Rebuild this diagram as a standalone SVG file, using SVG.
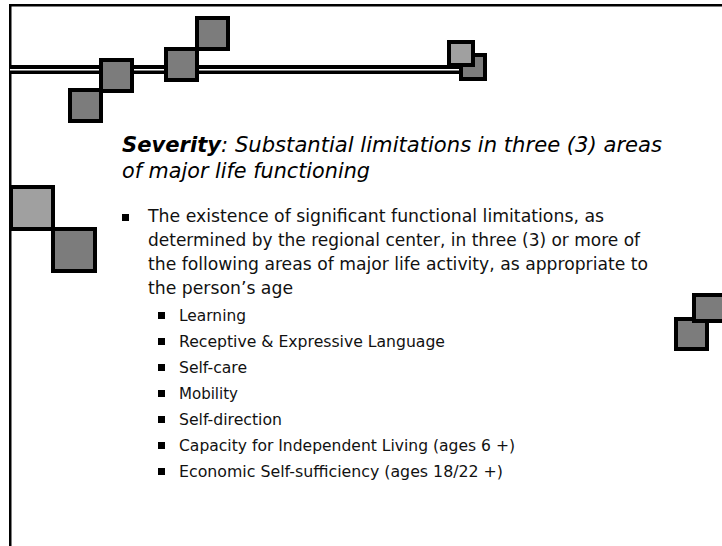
<svg xmlns="http://www.w3.org/2000/svg" width="722" height="546" viewBox="0 0 722 546">
  <style>
    .sq { stroke: #000; stroke-width: 4; }
    .dark { fill: #7c7c7c; }
    .light { fill: #a0a0a0; }
    .title { font-family: "DejaVu Sans", "Liberation Sans", sans-serif; font-size: 21px; font-style: italic; fill: #000; }
    .body { font-family: "DejaVu Sans", "Liberation Sans", sans-serif; font-size: 17px; fill: #111; }
    .sub { font-family: "DejaVu Sans", "Liberation Sans", sans-serif; font-size: 16px; fill: #111; }
    .bullet { fill: #000; }
  </style>
  <rect width="722" height="546" fill="#fff"/>

  <!-- frame: top rule and left rule -->
  <g id="frame">
    <rect x="9" y="4" width="713" height="2.5" fill="#000"/>
    <rect x="9" y="4" width="2.5" height="542" fill="#000"/>
  </g>

  <!-- double rule across the header -->
  <g id="header-rule">
    <rect x="10" y="65" width="455" height="9" fill="#000"/>
    <rect x="10" y="69" width="455" height="1.5" fill="#fff"/>
  </g>

  <!-- stepped squares along the header rule -->
  <g id="header-squares">
    <rect class="sq dark" x="70" y="90" width="31" height="31"/>
    <rect class="sq dark" x="101" y="60" width="31" height="31"/>
    <rect class="sq dark" x="166" y="49" width="31" height="31"/>
    <rect class="sq dark" x="197" y="18" width="31" height="31"/>
  </g>

  <g id="rule-end-squares">
    <rect class="sq dark" x="461" y="55" width="24" height="24"/>
    <rect class="sq light" x="449" y="42" width="24" height="23"/>
  </g>

  <g id="left-squares">
    <rect class="sq dark" x="53" y="229" width="42" height="42"/>
    <rect class="sq light" x="11" y="187" width="42" height="42"/>
  </g>

  <g id="right-squares">
    <rect class="sq dark" x="676" y="319" width="31" height="30"/>
    <rect class="sq dark" x="694" y="295" width="31" height="26"/>
  </g>

  <!-- heading -->
  <g id="title">
    <text class="title" x="122" y="152" textLength="540" lengthAdjust="spacingAndGlyphs"><tspan font-weight="bold">Severity</tspan>: Substantial limitations in three (3) areas</text>
    <text class="title" x="122" y="178" textLength="248" lengthAdjust="spacingAndGlyphs">of major life functioning</text>
  </g>

  <!-- main bullet -->
  <g id="main-bullet">
    <rect class="bullet" x="122" y="214" width="7" height="7"/>
    <text class="body" x="148" y="222" textLength="456" lengthAdjust="spacingAndGlyphs">The existence of significant functional limitations, as</text>
    <text class="body" x="148" y="246" textLength="492" lengthAdjust="spacingAndGlyphs">determined by the regional center, in three (3) or more of</text>
    <text class="body" x="148" y="270" textLength="500" lengthAdjust="spacingAndGlyphs">the following areas of major life activity, as appropriate to</text>
    <text class="body" x="148" y="294" textLength="145" lengthAdjust="spacingAndGlyphs">the person’s age</text>
  </g>

  <!-- sub bullets -->
  <g id="sub-bullets">
    <rect class="bullet" x="158" y="312" width="7" height="7"/>
    <text class="sub" x="179" y="321" textLength="67" lengthAdjust="spacingAndGlyphs">Learning</text>
    <rect class="bullet" x="158" y="338" width="7" height="7"/>
    <text class="sub" x="179" y="347" textLength="266" lengthAdjust="spacingAndGlyphs">Receptive &amp; Expressive Language</text>
    <rect class="bullet" x="158" y="364" width="7" height="7"/>
    <text class="sub" x="179" y="373" textLength="68" lengthAdjust="spacingAndGlyphs">Self-care</text>
    <rect class="bullet" x="158" y="390" width="7" height="7"/>
    <text class="sub" x="179" y="399" textLength="59" lengthAdjust="spacingAndGlyphs">Mobility</text>
    <rect class="bullet" x="158" y="416" width="7" height="7"/>
    <text class="sub" x="179" y="425" textLength="103" lengthAdjust="spacingAndGlyphs">Self-direction</text>
    <rect class="bullet" x="158" y="442" width="7" height="7"/>
    <text class="sub" x="179" y="451" textLength="336" lengthAdjust="spacingAndGlyphs">Capacity for Independent Living (ages 6 +)</text>
    <rect class="bullet" x="158" y="468" width="7" height="7"/>
    <text class="sub" x="179" y="477" textLength="324" lengthAdjust="spacingAndGlyphs">Economic Self-sufficiency (ages 18/22 +)</text>
  </g>
</svg>
